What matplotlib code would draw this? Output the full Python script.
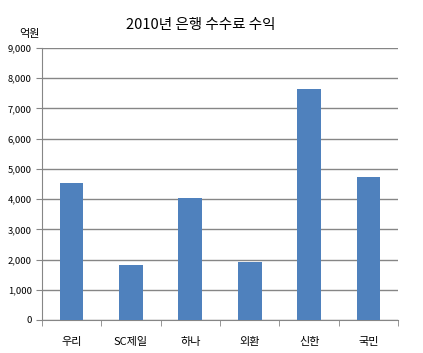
import numpy as np
import matplotlib
matplotlib.use("Agg")
import matplotlib.pyplot as plt
from matplotlib.ticker import FuncFormatter, FixedLocator

plt.rcParams['font.family'] = ['Noto Sans CJK KR', 'DejaVu Sans']

# 2010 bank fee income (unit: 100 million KRW)
banks = ['우리', 'SC제일', '하나', '외환', '신한', '국민']
income = [4530, 1820, 4040, 1920, 7640, 4720]
y_ticks = list(range(0, 9001, 1000))

fig = plt.figure(figsize=(4.23, 3.53), dpi=100)
ax = fig.add_axes([0.0986, 0.0935, 0.843, 0.7705])

x = np.arange(len(banks))
ax.bar(x, income, width=0.4, color='#4F81BD', zorder=3)

ax.set_xlim(-0.5, len(banks) - 0.5)
ax.set_ylim(0, 9000)
ax.set_yticks(y_ticks)
ax.yaxis.set_major_formatter(FuncFormatter(lambda v, p: f'{int(v):,}'))
ax.grid(axis='y', color='#868686', linewidth=1, zorder=0)

ax.set_xticks(x)
ax.set_xticklabels(banks, fontsize=8)
ax.tick_params(axis='x', which='major', length=0, pad=12)
ax.xaxis.set_minor_locator(FixedLocator(np.arange(-0.5, len(banks), 1.0)))
ax.tick_params(axis='x', which='minor', length=4, color='#868686')
ax.tick_params(axis='y', length=4, color='#868686', labelsize=6.8, pad=3)

for s in ['top', 'right']:
    ax.spines[s].set_visible(False)
for s in ['left', 'bottom']:
    ax.spines[s].set_color('#868686')

fig.text(0.475, 0.928, '2010년 은행 수수료 수익', ha='center', va='center', fontsize=10.5)
fig.text(0.07, 0.905, '억원', ha='center', va='center', fontsize=8)

fig.savefig('out.png', dpi=100)
